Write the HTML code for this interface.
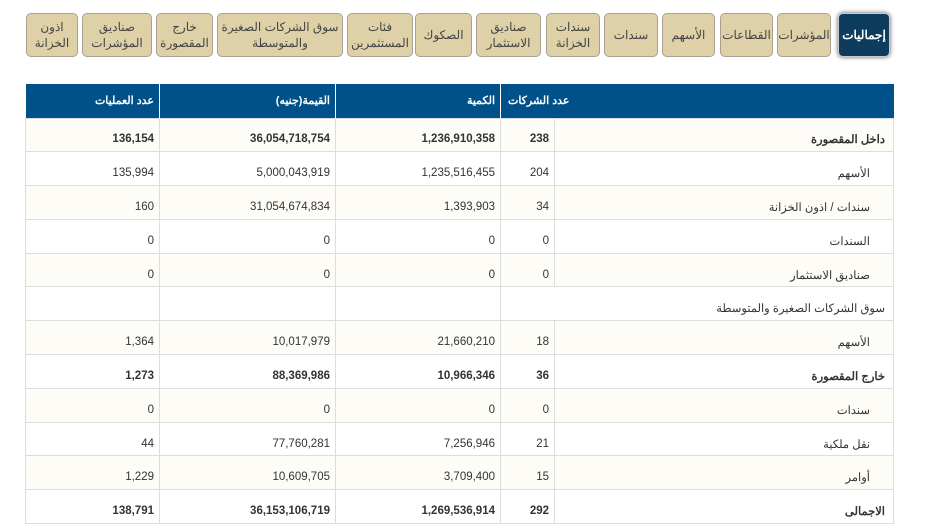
<!DOCTYPE html>
<html dir="rtl"><head><meta charset="utf-8"><style>
body{margin:0;width:934px;height:518px;overflow:hidden;background:#fff;font-family:"Liberation Sans","Noto Sans CJK SC",sans-serif;color:#333}
.tab{position:absolute;top:13px;height:44px;box-sizing:border-box;background:#dfd1a7;border:1px solid #a9a190;border-radius:5px;font-size:12px;color:#444;display:flex;align-items:center;justify-content:center;text-align:center;line-height:16px}
.tab.on{background:#0d3c5e;color:#fff;font-weight:bold;box-shadow:0 0 4px #555;border-color:#ccc}
table{position:absolute;left:25px;top:84px;width:868px;border-collapse:collapse;font-size:11.5px;table-layout:fixed}
th{background:#00508a;color:#fff;height:34px;border-left:1px solid #fff;text-align:right;padding:0 5px;font-size:11px;box-sizing:border-box}
td{height:33.8px;border:1px solid #ddd;text-align:right;padding:9px 5px 0 5px;box-sizing:border-box}
tr:nth-child(even) td{background:#fdfcf7}
tr.b td{font-weight:bold}
td.l{padding-right:8px}
td.s{padding-right:23px}
</style></head><body>
<div class="tab on" style="right:44px;width:52px">إجماليات</div>
<div class="tab" style="right:103px;width:54px">المؤشرات</div>
<div class="tab" style="right:161px;width:53px">القطاعات</div>
<div class="tab" style="right:219px;width:53px">الأسهم</div>
<div class="tab" style="right:276px;width:54px">سندات</div>
<div class="tab" style="right:334px;width:54px">سندات<br>الخزانة</div>
<div class="tab" style="right:393px;width:65px">صناديق<br>الاستثمار</div>
<div class="tab" style="right:462px;width:57px">الصكوك</div>
<div class="tab" style="right:521px;width:66px">فئات<br>المستثمرين</div>
<div class="tab" style="right:591px;width:126px">سوق الشركات الصغيرة<br>والمتوسطة</div>
<div class="tab" style="right:721px;width:57px">خارج<br>المقصورة</div>
<div class="tab" style="right:782px;width:70px">صناديق<br>المؤشرات</div>
<div class="tab" style="right:856px;width:52px">اذون<br>الخزانة</div>
<table>
<colgroup><col style="width:339px"><col style="width:54px"><col style="width:165px"><col style="width:176px"><col style="width:134px"></colgroup>
<tr><th colspan="2" style="padding-right:324px">عدد الشركات</th><th>الكمية</th><th>القيمة(جنيه)</th><th style="border-left:none">عدد العمليات</th></tr>
<tr class="b"><td class="l">داخل المقصورة</td><td>238</td><td>1,236,910,358</td><td>36,054,718,754</td><td>136,154</td></tr>
<tr><td class="s">الأسهم</td><td>204</td><td>1,235,516,455</td><td>5,000,043,919</td><td>135,994</td></tr>
<tr><td class="s">سندات / اذون الخزانة</td><td>34</td><td>1,393,903</td><td>31,054,674,834</td><td>160</td></tr>
<tr><td class="s">السندات</td><td>0</td><td>0</td><td>0</td><td>0</td></tr>
<tr><td class="s">صناديق الاستثمار</td><td>0</td><td>0</td><td>0</td><td>0</td></tr>
<tr><td class="l" colspan="2">سوق الشركات الصغيرة والمتوسطة</td><td></td><td></td><td></td></tr>
<tr><td class="s">الأسهم</td><td>18</td><td>21,660,210</td><td>10,017,979</td><td>1,364</td></tr>
<tr class="b"><td class="l">خارج المقصورة</td><td>36</td><td>10,966,346</td><td>88,369,986</td><td>1,273</td></tr>
<tr><td class="s">سندات</td><td>0</td><td>0</td><td>0</td><td>0</td></tr>
<tr><td class="s">نقل ملكية</td><td>21</td><td>7,256,946</td><td>77,760,281</td><td>44</td></tr>
<tr><td class="s">أوامر</td><td>15</td><td>3,709,400</td><td>10,609,705</td><td>1,229</td></tr>
<tr class="b"><td class="l">الاجمالى</td><td>292</td><td>1,269,536,914</td><td>36,153,106,719</td><td>138,791</td></tr>
</table>
</body></html>
